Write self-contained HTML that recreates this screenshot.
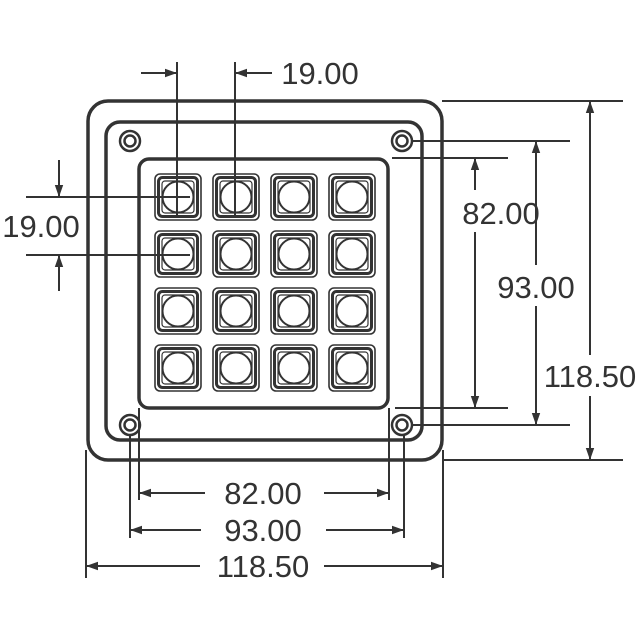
<!DOCTYPE html>
<html><head><style>body{margin:0;background:#fff}svg{display:block}</style></head><body>
<svg width="640" height="640" viewBox="0 0 640 640" xmlns="http://www.w3.org/2000/svg" font-family="Liberation Sans, sans-serif" font-size="31" fill="#333">
<defs>
<marker id="a" viewBox="0 0 10 10" refX="10" refY="5" markerWidth="12" markerHeight="12" markerUnits="userSpaceOnUse" orient="auto"><path d="M0,1.5 L10,5 L0,8.5 z" fill="#333"/></marker>
<g id="k">
<rect x="-23" y="-23" width="46" height="46" rx="5" fill="none" stroke="#333" stroke-width="1.6"/>
<rect x="-19.5" y="-19.5" width="39" height="39" rx="4" fill="none" stroke="#333" stroke-width="3"/>
<rect x="-16" y="-16" width="32" height="32" rx="3" fill="none" stroke="#333" stroke-width="1.2"/>
<circle r="15.5" fill="#fff" stroke="#333" stroke-width="2"/>
</g>
<g id="h"><circle r="10" fill="none" stroke="#333" stroke-width="2.5"/><circle r="5.5" fill="none" stroke="#333" stroke-width="2.5"/></g>
</defs>
<g fill="none" stroke="#333">
<rect x="88" y="101" width="354" height="359" rx="20" stroke-width="3.5"/>
<rect x="106" y="122" width="316" height="318" rx="14" stroke-width="3.5"/>
<rect x="139" y="159" width="249" height="249" rx="10" stroke-width="3.5"/>
</g>
<use href="#h" x="130" y="141"/><use href="#h" x="402" y="141"/><use href="#h" x="130" y="425"/><use href="#h" x="402" y="425"/>
<g>
<use href="#k" x="178" y="197"/><use href="#k" x="236" y="197"/><use href="#k" x="294" y="197"/><use href="#k" x="352" y="197"/>
<use href="#k" x="178" y="254"/><use href="#k" x="236" y="254"/><use href="#k" x="294" y="254"/><use href="#k" x="352" y="254"/>
<use href="#k" x="178" y="311"/><use href="#k" x="236" y="311"/><use href="#k" x="294" y="311"/><use href="#k" x="352" y="311"/>
<use href="#k" x="178" y="368"/><use href="#k" x="236" y="368"/><use href="#k" x="294" y="368"/><use href="#k" x="352" y="368"/>
</g>
<g stroke="#333" stroke-width="2" fill="none">
<line x1="177" y1="62" x2="177" y2="215"/><line x1="235" y1="62" x2="235" y2="215"/>
<line x1="141" y1="73" x2="177" y2="73" marker-end="url(#a)"/>
<line x1="272" y1="73" x2="235" y2="73" marker-end="url(#a)"/>
<line x1="26" y1="197" x2="190" y2="197"/><line x1="26" y1="255" x2="190" y2="255"/>
<line x1="59" y1="160" x2="59" y2="197" marker-end="url(#a)"/>
<line x1="59" y1="291" x2="59" y2="255" marker-end="url(#a)"/>
<line x1="442" y1="101" x2="623" y2="101"/><line x1="442" y1="460" x2="623" y2="460"/>
<line x1="412" y1="141" x2="570" y2="141"/><line x1="412" y1="425" x2="570" y2="425"/>
<line x1="392" y1="158" x2="508" y2="158"/><line x1="395" y1="408" x2="508" y2="408"/>
<line x1="475" y1="190" x2="475" y2="158" marker-end="url(#a)"/><line x1="475" y1="232" x2="475" y2="408" marker-end="url(#a)"/>
<line x1="536" y1="265" x2="536" y2="141" marker-end="url(#a)"/><line x1="536" y1="306" x2="536" y2="425" marker-end="url(#a)"/>
<line x1="590" y1="355" x2="590" y2="101" marker-end="url(#a)"/><line x1="590" y1="396" x2="590" y2="460" marker-end="url(#a)"/>
<line x1="139" y1="408" x2="139" y2="500"/><line x1="389" y1="408" x2="389" y2="500"/>
<line x1="130" y1="435" x2="130" y2="538"/><line x1="404" y1="435" x2="404" y2="538"/>
<line x1="86" y1="450" x2="86" y2="578"/><line x1="443" y1="450" x2="443" y2="578"/>
<line x1="205" y1="493" x2="139" y2="493" marker-end="url(#a)"/><line x1="324" y1="493" x2="389" y2="493" marker-end="url(#a)"/>
<line x1="201" y1="530" x2="130" y2="530" marker-end="url(#a)"/><line x1="326" y1="530" x2="404" y2="530" marker-end="url(#a)"/>
<line x1="200" y1="566" x2="86" y2="566" marker-end="url(#a)"/><line x1="324" y1="566" x2="443" y2="566" marker-end="url(#a)"/>
</g>
<g text-anchor="middle">
<text x="320" y="84">19.00</text>
<text x="41" y="237">19.00</text>
<text x="501" y="224">82.00</text>
<text x="536" y="298">93.00</text>
<text x="590" y="387">118.50</text>
<text x="263" y="504">82.00</text>
<text x="263" y="541">93.00</text>
<text x="263" y="577">118.50</text>
</g>
</svg>
</body></html>
